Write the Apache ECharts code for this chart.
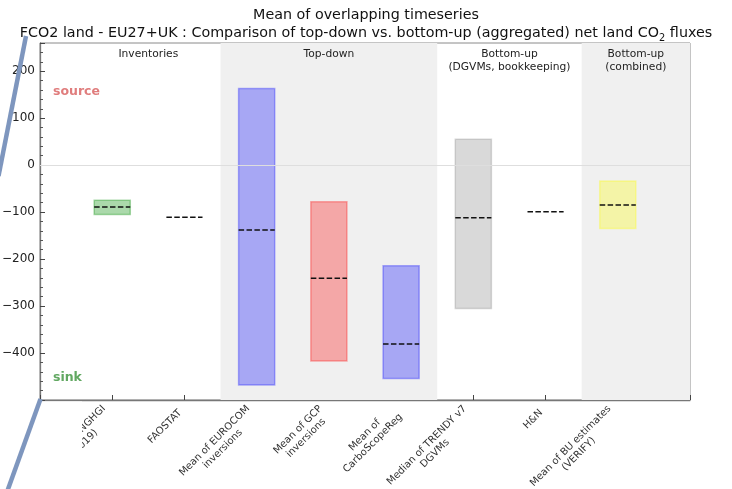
<!DOCTYPE html>
<html>
<head>
<meta charset="utf-8">
<script src="https://cdn.jsdelivr.net/npm/echarts@6/dist/echarts.min.js"></script>
<style>
  html, body { margin: 0; padding: 0; background: #fff; }
  #chart { width: 732px; height: 489px; }
</style>
</head>
<body>
<div id="chart"></div>
<script>
// Estimates along the x axis (one per column)
const categories = [
  'UNFCCC NGHGI\n(2019)',
  'FAOSTAT',
  'Mean of EUROCOM\ninversions',
  'Mean of GCP\ninversions',
  'Mean of\nCarboScopeReg',
  'Median of TRENDY v7\nDGVMs',
  'H&N',
  'Mean of BU estimates\n(VERIFY)'
];
// Range of each estimate (null where only a central value exists)
const rangeLow  = [-105, null, -468, -417, -454, -305, null, -135];
const rangeHigh = [-75,  null,  163,  -78, -214,   55, null,  -34];
// Central (mean / median) value of each estimate
const centralValue = [-89, -111, -138, -241, -381, -112, -99, -85];
// Fill colour of each range box
const boxColors = [
  'rgba(0,140,0,0.33)', null, 'rgba(0,0,255,0.3)', 'rgba(255,0,0,0.3)',
  'rgba(0,0,255,0.3)', 'rgba(128,128,128,0.3)', null, 'rgba(255,255,0,0.3)'
];

// Method groups: headings, heading positions and shaded spans
const groupNames = ['Inventories', 'Top-down', 'Bottom-up\n(DGVMs, bookkeeping)', 'Bottom-up\n(combined)'];
const groupCenters = [0.5, 3, 5.5, 7.25];
const shadedSpans = [[1.5, 4.5], [6.5, 8]];

const yTicks = [-400, -300, -200, -100, 0, 100, 200];
const X_MIN = -1, X_MAX = 8, Y_MIN = -500, Y_MAX = 260;
const BOX_HALF = 0.25;

const chart = echarts.init(document.getElementById('chart'), null, { renderer: 'canvas' });
const FONT = 'DejaVu Sans';

const boxData = categories.map((c, i) => [i, rangeLow[i], rangeHigh[i], centralValue[i]]);

function renderBox(params, api) {
  const i = api.value(0);
  const lo = rangeLow[i], hi = rangeHigh[i];
  const children = [];
  if (lo !== null && hi !== null) {
    const p1 = api.coord([i - BOX_HALF, hi]);
    const p2 = api.coord([i + BOX_HALF, lo]);
    children.push({
      type: 'rect',
      shape: { x: p1[0], y: p1[1], width: p2[0] - p1[0], height: p2[1] - p1[1] },
      style: { fill: boxColors[i], stroke: boxColors[i], lineWidth: 1.5 }
    });
  }
  const a = api.coord([i - BOX_HALF, api.value(3)]);
  const b = api.coord([i + BOX_HALF, api.value(3)]);
  children.push({
    type: 'line',
    shape: { x1: a[0], y1: a[1], x2: b[0], y2: b[1] },
    style: { stroke: '#111', lineWidth: 1.5, lineDash: [5.5, 2.4] }
  });
  return { type: 'group', children };
}

function renderHeading(params, api) {
  const i = params.dataIndex;
  const p = api.coord([api.value(0), Y_MAX]);
  return {
    type: 'text',
    x: p[0], y: p[1] + 5,
    style: {
      text: groupNames[i], align: 'center', verticalAlign: 'top',
      font: '10.7px "DejaVu Sans"', fill: '#222', lineHeight: 13
    }
  };
}

function xLabel(v) {
  const name = categories[v];
  if (name === undefined) return '';
  return name.split('\n').map(s => '{c|' + s + '}').join('\n');
}

chart.setOption({
  animation: false,
  backgroundColor: '#fff',
  title: {
    left: 'center', top: 4, padding: 0,
    text: '{t|Mean of overlapping timeseries}\n{t|FCO2 land - EU27+UK : Comparison of top-down vs. bottom-up (aggregated) net land CO}{s|2}{t| fluxes}',
    textStyle: {
      fontFamily: FONT, fontWeight: 'normal', color: '#111', lineHeight: 18,
      rich: {
        t: { fontFamily: FONT, fontSize: 14.3, color: '#111', lineHeight: 18, verticalAlign: 'bottom' },
        s: { fontFamily: FONT, fontSize: 9.8, color: '#111', lineHeight: 18, verticalAlign: 'bottom', padding: [0, 0, -3, 0] }
      }
    }
  },
  grid: {
    left: 40, right: 42, top: 43, height: 357,
    outerBoundsMode: 'none', containLabel: false,
    show: true, borderColor: '#8a8a8a', borderWidth: 1, backgroundColor: 'transparent'
  },
  xAxis: {
    type: 'value', min: X_MIN, max: X_MAX, interval: 1,
    axisLine: { show: true, onZero: false, lineStyle: { color: '#777', width: 1.3 } },
    axisTick: { show: true, inside: true, length: 5, lineStyle: { color: '#444' } },
    splitLine: { show: false },
    axisLabel: {
      rotate: 45, margin: 7, padding: [0, 6, 0, 0], formatter: xLabel,
      rich: { c: { fontFamily: FONT, fontSize: 10, color: '#333', align: 'center', lineHeight: 11.5 } }
    }
  },
  yAxis: {
    type: 'value', min: Y_MIN, max: Y_MAX, interval: 100,
    axisLine: { show: true, onZero: false, lineStyle: { color: '#777', width: 1.3 } },
    axisTick: { show: true, inside: true, length: 5, lineStyle: { color: '#444' } },
    minorTick: { show: true, splitNumber: 5, length: 3, lineStyle: { color: '#555' } },
    splitLine: { show: false },
    axisLabel: {
      margin: 5, fontFamily: FONT, fontSize: 12, color: '#222',
      formatter: v => yTicks.includes(v) ? String(v).replace('-', '\u2212') : ''
    }
  },
  graphic: [
    { type: 'text', left: 53, top: 85, z: 10,
      style: { text: 'source', font: 'bold 12.5px "DejaVu Sans"', fill: '#e07d7d' } },
    { type: 'text', left: 53, top: 371, z: 10,
      style: { text: 'sink', font: 'bold 12.5px "DejaVu Sans"', fill: '#62a862' } },
    { type: 'rect', z: 50, shape: { x: 41, y: 401.5, width: 41, height: 88 }, style: { fill: '#fff' } },
    { type: 'line', z: 60, shape: { x1: 26, y1: 36, x2: -1.5, y2: 176 },
      style: { stroke: '#7e96be', lineWidth: 4.5 } },
    { type: 'line', z: 60, shape: { x1: 40.5, y1: 399, x2: 7, y2: 492 },
      style: { stroke: '#7e96be', lineWidth: 4.5 } }
  ],
  series: [
    {
      type: 'custom', name: 'groups', silent: true, clip: false, z: 1,
      data: groupCenters.map(c => [c]),
      renderItem: renderHeading,
      markArea: {
        silent: true,
        itemStyle: { color: '#f0f0f0' },
        data: shadedSpans.map(s => [{ xAxis: s[0] }, { xAxis: s[1] }])
      },
      markLine: {
        silent: true, symbol: 'none', label: { show: false },
        lineStyle: { color: '#dedede', width: 1, type: 'solid' },
        data: [{ yAxis: 0 }]
      }
    },
    {
      type: 'custom', name: 'estimates', silent: true, z: 3,
      data: boxData,
      renderItem: renderBox
    }
  ]
});
</script>
</body>
</html>
